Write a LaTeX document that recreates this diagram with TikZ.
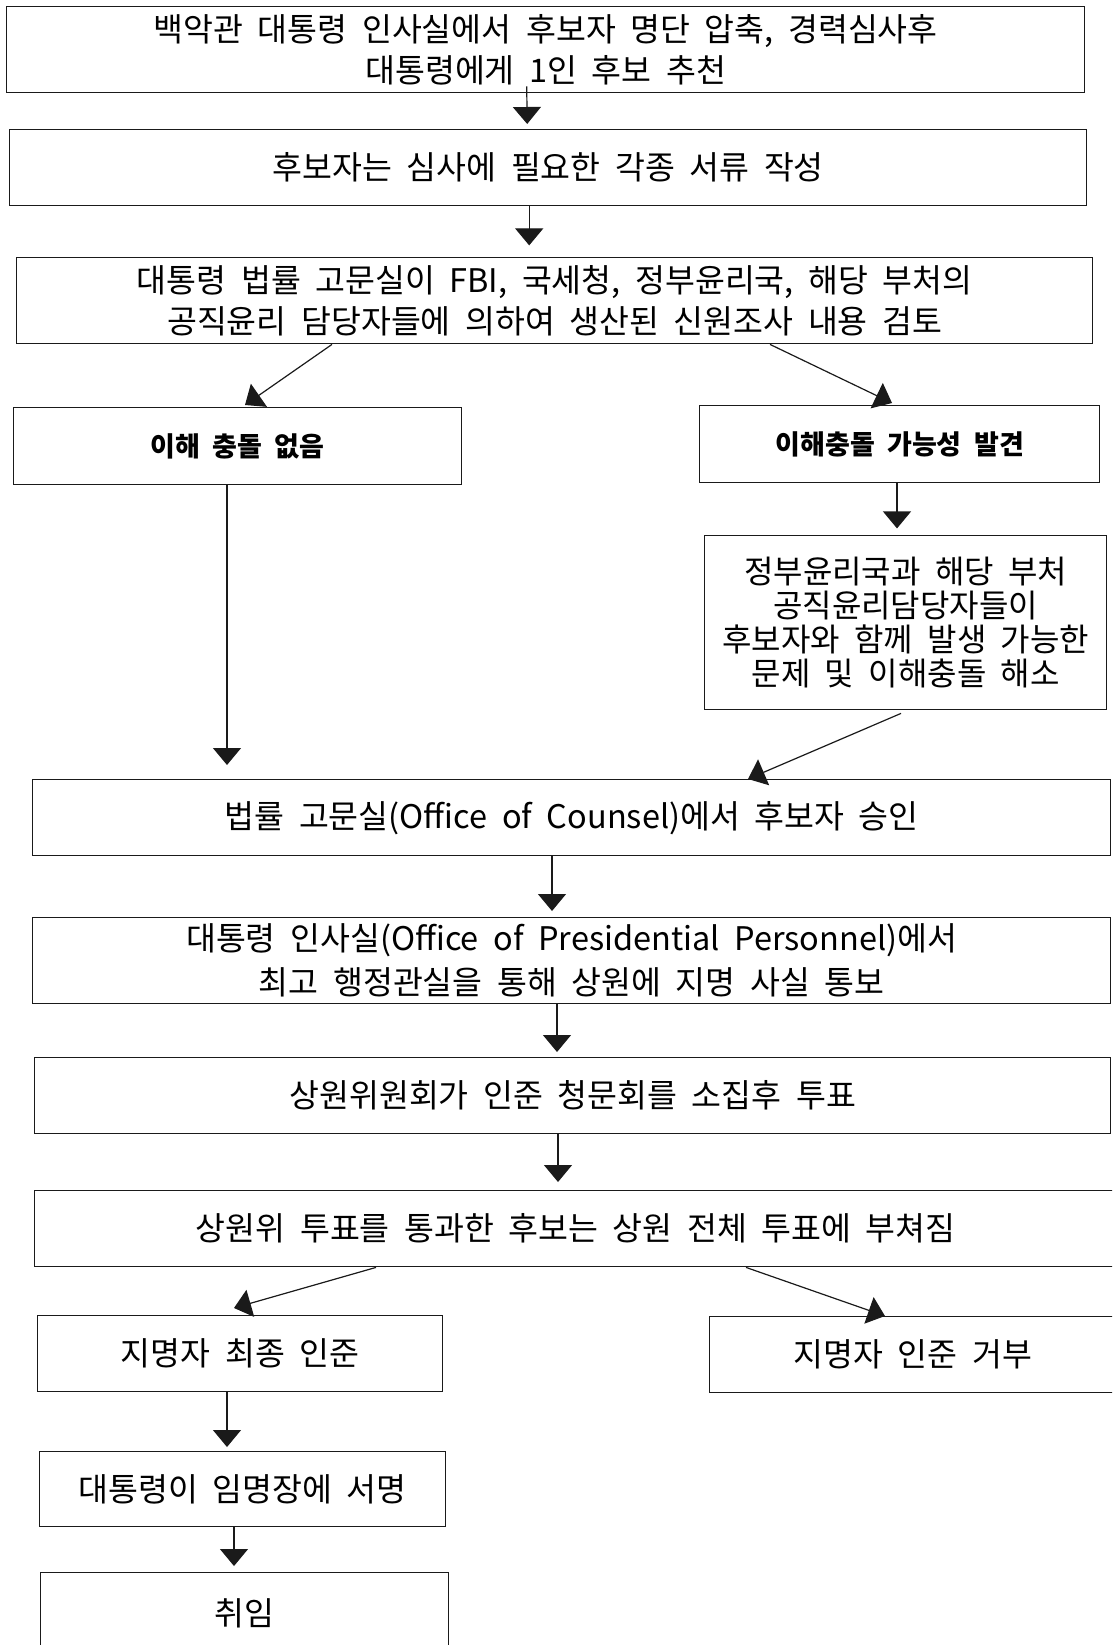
\documentclass[tikz,border=0pt]{standalone}
\usepackage{fontspec}
\setmainfont{Noto Sans CJK KR}[WordSpace=2]
\usepackage{xcolor}
\usepackage{tikz}
\usetikzlibrary{arrows.meta,positioning,calc}
\definecolor{linea}{HTML}{1A1A1A}

\begin{document}
\begin{tikzpicture}[x=1pt,y=-1pt,
    caja/.style={draw=linea,line width=1.4pt,anchor=north west,inner sep=0pt,
                 align=center,font=\fontsize{32.5}{41}\selectfont},
    decision/.style={caja,font=\fontsize{27}{30}\selectfont\bfseries},
    flecha/.style={->,linea,line width=1.2pt},
    >={Triangle[length=17pt,width=28pt]}]
  \useasboundingbox (0,0) rectangle (1112,1645);
  \clip (0,0) rectangle (1112,1645);
  \node[caja,minimum width=1078pt,minimum height=86pt] (recomienda) at (6,6)
    {백악관 대통령 인사실에서 후보자 명단 압축, 경력심사후\\대통령에게 1인 후보 추천};
  \node[caja,minimum width=1077pt,minimum height=76pt] (formularios) at (9,129)
    {후보자는 심사에 필요한 각종 서류 작성};
  \node[caja,minimum width=1076pt,minimum height=86pt] (revision) at (16,257)
    {대통령 법률 고문실이 FBI, 국세청, 정부윤리국, 해당 부처의\\공직윤리 담당자들에 의하여 생산된 신원조사 내용 검토};
  \node[decision,minimum width=448pt,minimum height=77pt] (sinconf) at (13,407)
    {이해 충돌 없음};
  \node[decision,minimum width=400pt,minimum height=77pt] (conf) at (699,405)
    {이해충돌 가능성 발견};
  \node[caja,minimum width=402pt,minimum height=174pt,
        font=\fontsize{32}{34}\selectfont] (resuelve) at (704,535)
    {정부윤리국과 해당 부처\\공직윤리담당자들이\\후보자와 함께 발생 가능한\\문제 및 이해충돌 해소};
  \node[caja,minimum width=1078pt,minimum height=76pt] (aprueba) at (32,779)
    {법률 고문실(Office of Counsel)에서 후보자 승인};
  \node[caja,minimum width=1078pt,minimum height=86pt,
        font=\fontsize{32.5}{44}\selectfont] (notifica) at (32,917)
    {대통령 인사실(Office of Presidential Personnel)에서\\최고 행정관실을 통해 상원에 지명 사실 통보};
  \node[caja,minimum width=1076pt,minimum height=76pt] (comite) at (34,1057)
    {상원위원회가 인준 청문회를 소집후 투표};
  \node[caja,minimum width=1082pt,minimum height=76pt] (pleno) at (34,1190)
    {상원위 투표를 통과한 후보는 상원 전체 투표에 부쳐짐};
  \node[caja,minimum width=405pt,minimum height=76pt] (confirma) at (37,1315)
    {지명자 최종 인준};
  \node[caja,minimum width=406pt,minimum height=76pt] (rechaza) at (709,1316)
    {지명자 인준 거부};
  \node[caja,minimum width=406pt,minimum height=75pt] (firma) at (39,1451)
    {대통령이 임명장에 서명};
  \node[caja,minimum width=408pt,minimum height=82pt] (asume) at (40,1572)
    {취임};
  \draw[flecha] ($(recomienda.south)+(-19,-7)$) -- ($(formularios.north)+(-21,-5)$);
  \draw[flecha] ($(formularios.south)+(-19,0)$) -- ($(formularios.south)+(-19,39)$);
  \draw[flecha] ($(revision.south west)+(316,0)$) -- ($(sinconf.north west)+(232,-2)$);
  \draw[flecha] ($(revision.south west)+(754,0)$) -- ($(conf.north west)+(193,-2)$);
  \draw[flecha] ($(conf.south west)+(198,0)$) -- ($(conf.south west)+(198,45)$);
  \draw[flecha] ($(sinconf.south west)+(214,0)$) -- ($(aprueba.north west)+(195,-14)$);
  \draw[flecha] ($(resuelve.south west)+(197,3)$) -- ($(aprueba.north west)+(716,0)$);
  \draw[flecha] ($(aprueba.south west)+(520,0)$) -- ($(notifica.north west)+(520,-6)$);
  \draw[flecha] ($(notifica.south west)+(525,0)$) -- ($(comite.north west)+(523,-5)$);
  \draw[flecha] ($(comite.south west)+(524,0)$) -- ($(pleno.north west)+(524,-8)$);
  \draw[flecha] ($(pleno.south west)+(342,0)$) -- ($(confirma.north west)+(197,-7)$);
  \draw[flecha] ($(pleno.south west)+(712,0)$) -- ($(rechaza.north west)+(176,0)$);
  \draw[flecha] ($(confirma.south west)+(190,0)$) -- ($(firma.north west)+(188,-4)$);
  \draw[flecha] ($(firma.south west)+(195,0)$) -- ($(asume.north west)+(194,-6)$);
\end{tikzpicture}
\end{document}
